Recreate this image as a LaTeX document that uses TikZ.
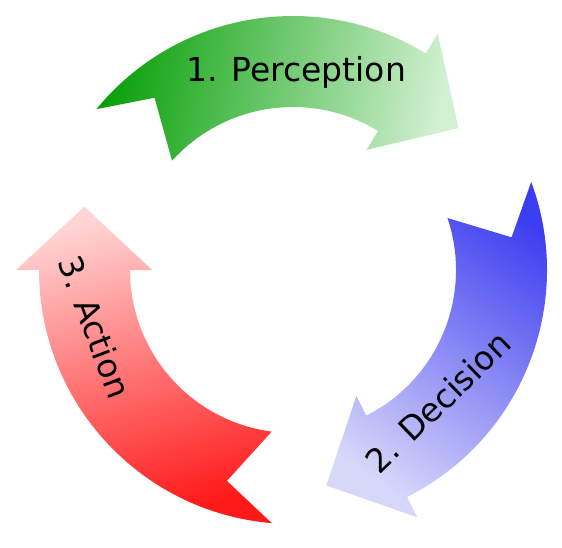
\documentclass[tikz,border=0pt]{standalone}
\usepackage{fontspec}
\setmainfont{DejaVu Sans}
\definecolor{gdark}{RGB}{8,160,8}
\definecolor{glight}{RGB}{210,240,210}
\definecolor{bdark}{RGB}{60,60,240}
\definecolor{blight}{RGB}{215,215,250}
\definecolor{rdark}{RGB}{255,25,25}
\definecolor{rlight}{RGB}{255,212,212}
% #1 tail outer angle, #2 tail inner angle, #3 notch angle, #4 head base angle, #5 tip angle
\newcommand\cycarrow[6][]{%
  \shade[#1] (#2:254) arc[start angle=#2, end angle=#5, radius=254]
    -- (#5:277) -- (#6:218) -- (#5:141) -- (#5:163)
    arc[start angle=#5, end angle=#3, radius=163]
    -- (#4:221) -- cycle;}
\tikzset{lbl/.style={font=\fontsize{33}{40}\selectfont, text=black, inner sep=0pt}}
\begin{document}
\begin{tikzpicture}[x=1pt,y=1pt]
\useasboundingbox (0,0) rectangle (562,547);
\coordinate (C) at (293,277);
\begin{scope}[shift={(C)}]
\cycarrow[top color=glight, bottom color=gdark, shading angle=-100]{140.7}{137.9}{128.8}{58.5}{40.6}
\cycarrow[top color=blight, bottom color=bdark, shading angle=145]{20.3}{18.6}{8.5}{-63.3}{-81.2}
\cycarrow[top color=rlight, bottom color=rdark, shading angle=15]{265.2}{262.5}{252.6}{180}{163.1}
\end{scope}
\node[lbl, anchor=base] (perc) at (296,465) {1. Perception};
\node[lbl, rotate=44] (dec) at (438,145) {2. Decision};
\node[lbl, rotate=-69.4] (act) at (95,220) {3. Action};
\end{tikzpicture}
\end{document}
